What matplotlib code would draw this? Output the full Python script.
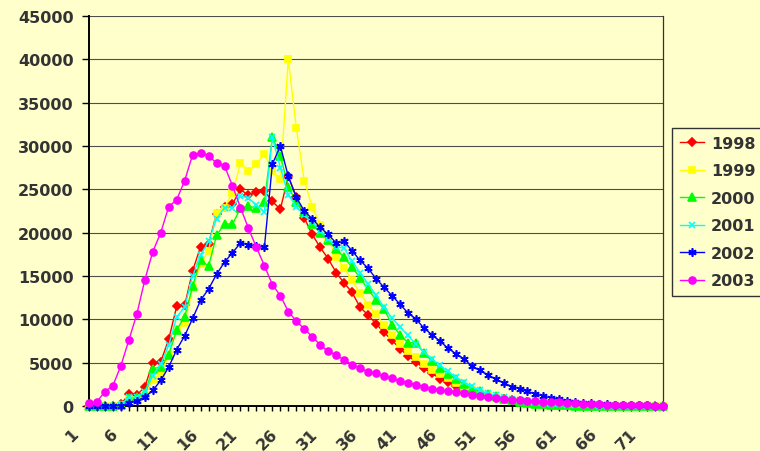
import matplotlib
matplotlib.use("Agg")
import matplotlib.pyplot as plt
from matplotlib.transforms import ScaledTranslation

# weekly counts per season, 73 points each
weeks = list(range(1, 74))

y1998 = [0, 0, 0, 50, 200, 1350, 1250, 2200, 5000, 5100,
         7700, 11500, 11600, 15600, 18400, 18700, 22200, 23000, 23300, 25000,
         24300, 24700, 24800, 23600, 22700, 26500, 24100, 21700, 19800, 18300,
         17000, 15400, 14200, 13100, 11400, 10500, 9500, 8500, 7600, 6600,
         5800, 5100, 4350, 3800, 3150, 2750, 2330, 1920, 1650, 1400,
         1150, 930, 770, 650, 540, 420, 310, 230, 160, 120,
         90, 70, 50, 40, 30, 25, 20, 15, 10, 10,
         5, 5, 0]

y1999 = [0, 0, 0, 30, 100, 800, 700, 1300, 3000, 3700,
         5900, 8900, 9600, 13600, 16400, 17900, 22300, 22900, 24600, 28000,
         27100, 27900, 29100, 27100, 26200, 40000, 32100, 26000, 23000, 20900,
         19300, 17200, 15900, 14500, 13000, 11700, 10600, 9400, 8200, 7100,
         6300, 5600, 4800, 4200, 3650, 3200, 2650, 2200, 1800, 1500,
         1230, 960, 750, 620, 500, 380, 280, 200, 140, 100,
         70, 50, 40, 30, 25, 20, 15, 10, 10, 5,
         5, 5, 0]

y2000 = [0, 0, 0, 30, 100, 900, 1000, 1500, 4300, 4500,
         5900, 8800, 10300, 13800, 16900, 16100, 19700, 21000, 21000, 22800,
         23100, 22800, 23500, 31000, 28900, 25300, 23500, 22400, 21000, 20000,
         19100, 18100, 17150, 16000, 14800, 13450, 12250, 11200, 9400, 8250,
         7300, 7300, 6150, 5200, 4380, 3750, 3150, 2580, 2000, 1700,
         1420, 1150, 850, 650, 500, 380, 270, 190, 130, 90,
         60, 40, 30, 20, 15, 10, 10, 5, 5, 5,
         0, 0, 0]

y2001 = [0, 0, 0, 30, 150, 1000, 1000, 1600, 3500, 4800,
         7000, 10300, 11400, 15000, 17400, 19000, 21600, 22900, 22900, 24200,
         24000, 23200, 22400, 31000, 27500, 24400, 23000, 22000, 21200, 20200,
         19300, 18400, 18200, 16700, 15400, 14100, 12800, 11400, 10150, 9150,
         8150, 7100, 6250, 5450, 4700, 4000, 3350, 2780, 2270, 1810,
         1460, 1230, 1040, 850, 690, 560, 440, 340, 260, 200,
         150, 110, 80, 60, 45, 35, 25, 20, 15, 10,
         10, 5, 5]

y2002 = [0, 0, 0, 0, 50, 300, 600, 1000, 1800, 2950,
         4500, 6500, 8100, 10100, 12200, 13500, 15200, 16600, 17700, 18800,
         18600, 18450, 18300, 27900, 30000, 26500, 24100, 22500, 21600, 20600,
         19800, 18800, 19000, 17900, 16800, 15900, 14700, 13700, 12750, 11750,
         10750, 10050, 9000, 8230, 7500, 6690, 6040, 5460, 4620, 4100,
         3620, 3080, 2690, 2250, 2000, 1690, 1400, 1150, 920, 770,
         600, 480, 380, 300, 230, 190, 150, 120, 100, 80,
         60, 40, 30]

y2003 = [300, 500, 1650, 2350, 4650, 7600, 10600, 14550, 17800, 20000,
         23000, 23800, 26000, 29000, 29200, 28900, 28000, 27700, 25400, 22900,
         20500, 18300, 16200, 14000, 12750, 10900, 9800, 8900, 8000, 7050,
         6300, 5900, 5300, 4770, 4400, 3950, 3770, 3420, 3190, 2920,
         2690, 2460, 2190, 1960, 1810, 1690, 1580, 1460, 1270, 1150,
         1000, 920, 850, 730, 690, 620, 540, 500, 460, 420,
         350, 310, 270, 230, 190, 150, 120, 100, 80, 70,
         60, 40, 30]

series = [
    ("1998", y1998, "#FF0000", "D", 4.5),
    ("1999", y1999, "#FFFF00", "s", 5),
    ("2000", y2000, "#00FF00", "^", 5.5),
    ("2001", y2001, "#00FFFF", "x", 5),
    ("2002", y2002, "#0000FF", (6, 2, 0), 6),
    ("2003", y2003, "#FF00FF", "o", 5),
]

bg = "#FFFFCC"
txt = "#333333"

fig = plt.figure(figsize=(7.6, 4.52), dpi=100, facecolor=bg)
ax = fig.add_axes([89/760, 45/452, 574/760, 390/452], facecolor=bg)

for name, vals, col, mk, ms in series:
    ax.plot(weeks, vals, color=col, lw=1.0, marker=mk, ms=ms,
            mec=col, mfc=col, mew=1.2, label=name, clip_on=False, zorder=3)

ax.set_xlim(1, 73)
ax.set_ylim(0, 45000)
ax.set_yticks(range(0, 45001, 5000))
ax.set_yticklabels([str(v) for v in range(0, 45001, 5000)])
ax.set_xticks(weeks)
ax.set_xticklabels([str(w) if (w - 1) % 5 == 0 else "" for w in weeks])

ax.grid(axis="y", color="#4d4d4d", lw=0.8)
ax.set_axisbelow(True)

for s in ["left", "bottom"]:
    ax.spines[s].set_color("black")
    ax.spines[s].set_linewidth(1.4)
ax.spines["right"].set_color("#333333")
ax.spines["right"].set_linewidth(0.9)
ax.spines["top"].set_visible(False)

ax.tick_params(axis="y", length=5, width=1, color="black", pad=6,
               labelsize=11.5, labelcolor=txt)
ax.tick_params(axis="x", length=3.5, width=1, color="black", pad=0,
               labelsize=11.5, labelcolor=txt)
for lab in ax.get_yticklabels():
    lab.set_fontweight("bold")

# rotated week labels, pulled left/down so they end just before each tick
shift = ScaledTranslation(-13/100, -20/100, fig.dpi_scale_trans)
for lab in ax.get_xticklabels():
    lab.set_fontweight("bold")
    lab.set_rotation(45)
    lab.set_rotation_mode("anchor")
    lab.set_ha("right")
    lab.set_va("center")
    lab.set_transform(lab.get_transform() + shift)

leg = fig.legend(loc="upper left", bbox_to_anchor=(672/760, 1 - 129/452),
                 borderaxespad=0, frameon=True, fancybox=False,
                 facecolor=bg, edgecolor="#333333", framealpha=1,
                 prop={"size": 11.5, "weight": "bold"},
                 handlelength=1.5, handletextpad=0.45, borderpad=0.5,
                 labelspacing=0.78, numpoints=1)
leg.get_frame().set_linewidth(1.0)
for t in leg.get_texts():
    t.set_color(txt)

fig.savefig("out.png", dpi=100, facecolor=bg)
